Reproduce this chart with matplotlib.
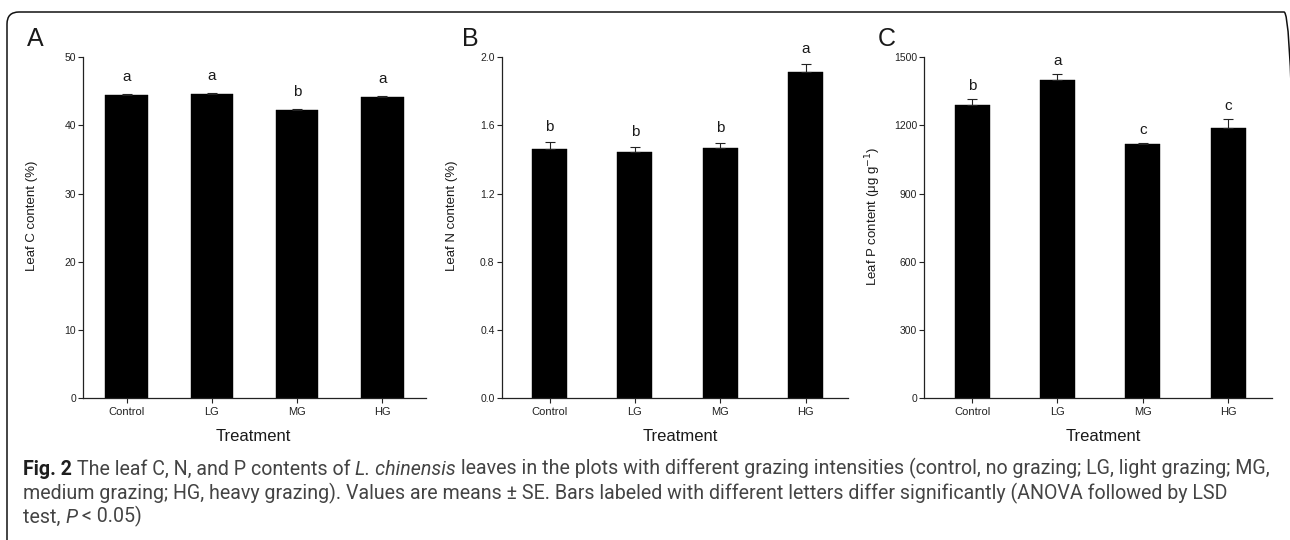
import numpy as np
import matplotlib
matplotlib.use("Agg")
import matplotlib.pyplot as plt
from matplotlib.patches import FancyBboxPatch

# ---------- data ----------
treatments = ["Control", "LG", "MG", "HG"]

leaf_c = [44.5, 44.6, 42.3, 44.2]
leaf_c_se = [0.1, 0.1, 0.15, 0.1]
leaf_c_letters = ["a", "a", "b", "a"]

leaf_n = [1.462, 1.446, 1.468, 1.912]
leaf_n_se = [0.043, 0.027, 0.029, 0.047]
leaf_n_letters = ["b", "b", "b", "a"]

leaf_p = [1291, 1400, 1118, 1189]
leaf_p_se = [27, 26, 5, 40]
leaf_p_letters = ["b", "a", "c", "c"]

caption_lines = [
    [("Fig. 2", "bold", "normal"),
     (" The leaf C, N, and P contents of ", "normal", "normal"),
     ("L. chinensis", "normal", "italic"),
     (" leaves in the plots with different grazing intensities (control, no "
      "grazing; LG, light grazing; MG,", "normal", "normal")],
    [("medium grazing; HG, heavy grazing). Values are means \u00b1 SE. Bars "
      "labeled with different letters differ significantly (ANOVA followed by LSD",
      "normal", "normal")],
    [("test, ", "normal", "normal"), ("P", "normal", "italic"),
     (" < 0.05)", "normal", "normal")],
]

plt.rcParams.update({"font.family": ["Liberation Sans", "DejaVu Sans"]})
INK = "#1a1a1a"
W, H = 1290, 540

fig = plt.figure(figsize=(12.9, 5.4), dpi=100)


def px_axes(x0, x1, y0, y1):
    """axes rect from pixel edges (y from top)"""
    return fig.add_axes([x0 / W, 1 - y1 / H, (x1 - x0) / W, (y1 - y0) / H])


# panel: (tag, left px, right px, values, se, letters, ymax, ystep, fmt,
#         ylabel, bar width, xlim, letter pad pt, label coords, tag x px)
PANELS = [
    ("A", 83, 426, leaf_c, leaf_c_se, leaf_c_letters, 50, 10, "{:.0f}",
     "Leaf C content (%)", 0.5, (-0.51, 3.51), 9.5, (-0.131, 0.496), 27),
    ("B", 501.7, 848.3, leaf_n, leaf_n_se, leaf_n_letters, 2.0, 0.4, "{:.1f}",
     "Leaf N content (%)", 0.41, (-0.56, 3.5), 8.0, (-0.126, 0.516), 462),
    ("C", 924.3, 1271.7, leaf_p, leaf_p_se, leaf_p_letters, 1500, 300, "{:.0f}",
     "Leaf P content (\u03bcg g$^{-1}$)", 0.41, (-0.56, 3.51), 6.5,
     (-0.119, 0.515), 878),
]

for (tag, x0, x1, vals, se, letters, ymax, ystep, fmt, ylab, bw, xlim,
     lpad, (ylx, xlx), tagx) in PANELS:
    ax = px_axes(x0, x1, 57.3, 398)
    x = np.arange(len(treatments))
    vals = np.asarray(vals, float)
    se = np.asarray(se, float)
    ax.bar(x, vals, bw, color="black", edgecolor="black", linewidth=0.3,
           zorder=2)
    ax.errorbar(x, vals, yerr=[np.zeros_like(se), se], fmt="none",
                ecolor="#222", elinewidth=0.8, capsize=3.6, capthick=0.8,
                zorder=3)
    for xi, v, e, let in zip(x, vals, se, letters):
        ax.annotate(let, (xi, v + e), xytext=(0, lpad),
                    textcoords="offset points", ha="center", va="baseline",
                    fontsize=11, color=INK)

    ax.set_xlim(*xlim)
    ax.set_ylim(0, ymax)
    ticks = np.arange(0, ymax + ystep / 2, ystep)
    ax.set_yticks(ticks)
    ax.set_yticklabels([fmt.format(t) for t in ticks])
    ax.set_xticks(x)
    ax.set_xticklabels(treatments)

    for s in ("top", "right"):
        ax.spines[s].set_visible(False)
    for s in ("left", "bottom"):
        ax.spines[s].set_linewidth(0.9)
        ax.spines[s].set_color("#222")
    ax.tick_params(axis="y", direction="out", length=3.3, width=0.8,
                   color="#222", labelsize=7.5, labelcolor="#222", pad=1.8)
    ax.tick_params(axis="x", direction="out", length=3.3, width=0.8,
                   color="#222", labelsize=8, labelcolor="#222", pad=3)

    ax.set_ylabel(ylab, fontsize=9.5, color=INK)
    ax.yaxis.set_label_coords(ylx, 0.534)
    ax.set_xlabel("Treatment", fontsize=12, color=INK, va="baseline")
    ax.xaxis.set_label_coords(xlx, -0.125)

    fig.text(tagx / W, 1 - 46.5 / H, tag, fontsize=18, color=INK,
             ha="left", va="baseline")

# ---------- rounded frame, runs off the right and bottom edges ----------
frame = FancyBboxPatch((0.07, -0.4), 12.89, 5.28 + 0.4,
                       boxstyle="round,pad=0,rounding_size=0.12",
                       transform=fig.dpi_scale_trans, fill=False,
                       edgecolor="#111", linewidth=1.1, clip_on=False)
fig.add_artist(frame)

# ---------- caption ----------
cap_ax = fig.add_axes([0, 0, 1, 1])
cap_ax.set_axis_off()
cap_ax.set_xlim(0, 1)
cap_ax.set_ylim(0, 1)

CAP_FONT = ["Roboto", "DejaVu Sans"]
baselines = [475, 499, 523]
cap_texts = []
line_spans = []
for line, base in zip(caption_lines, baselines):
    prev = None
    first = None
    for txt, weight, style in line:
        col = "#1e1e1e" if weight == "bold" else "#444444"
        if prev is None:
            t = cap_ax.text(23 / W, 1 - base / H, txt, ha="left",
                            va="baseline", fontsize=12, fontweight=weight,
                            fontstyle=style, family=CAP_FONT, color=col)
            first = t
        else:
            t = cap_ax.annotate(txt, xy=(1, 0), xycoords=prev, ha="left",
                                va="bottom", fontsize=12, fontweight=weight,
                                fontstyle=style, family=CAP_FONT, color=col)
        cap_texts.append(t)
        prev = t
    line_spans.append((first, prev))

# scale the caption so the first line spans the same width as the source
fig.canvas.draw()
r = fig.canvas.get_renderer()
f, l = line_spans[0]
width = l.get_window_extent(r).x1 - f.get_window_extent(r).x0
scale = (1262 - 23) / width
for t in cap_texts:
    t.set_fontsize(12 * scale)

fig.savefig("out.png", dpi=100)
